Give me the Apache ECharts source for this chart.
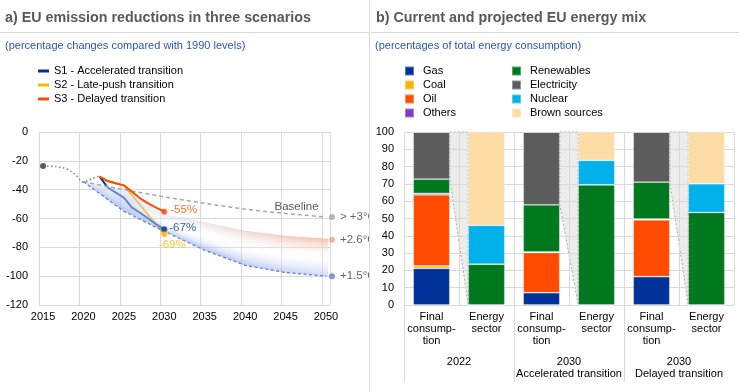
<!DOCTYPE html>
<html><head><meta charset="utf-8">
<script src="https://cdn.jsdelivr.net/npm/echarts@6/dist/echarts.min.js"></script>
<style>
html,body{margin:0;padding:0;background:#fff;}
#wrap{position:relative;width:744px;height:392px;overflow:hidden;background:#fff;}
#left{position:absolute;left:0;top:0;width:369px;height:392px;}
#right{position:absolute;left:371px;top:0;width:373px;height:392px;}
#divider{position:absolute;left:369px;top:0;width:1px;height:392px;background:#d9d9d9;}
</style></head><body>
<div id="wrap"><div id="left"></div><div id="divider"></div><div id="right"></div></div>
<script>
const FONT = 'Liberation Sans, Arial, sans-serif';

// ---------- Panel a data ----------
const years = []; for (let y = 2015; y <= 2050; y++) years.push(String(y));
const yTicks = [-120, -100, -80, -60, -40, -20, 0];
const histYears = [2015, 2016, 2017, 2018, 2019, 2020, 2021, 2022];
const histVals  = [-23.5, -23.7, -24.3, -25.8, -29.5, -34.5, -32.5, -30.5];
const baseYears = [2020, 2025, 2030, 2035, 2040, 2045, 2050];
const baseVals  = [-34.5, -40, -45, -49.5, -53.5, -56.5, -59];
const bandYears = [2020, 2025, 2030, 2035, 2040, 2045, 2050];
const lowVals   = [-34.5, -55, -69, -82, -92.5, -97.5, -100];   // 1.5°C path
const topVals   = [-34.5, -40, -57, -62.5, -68.5, -72, -74];     // 2.6°C edge of the band
const scenYears = [2022, 2023, 2024, 2025, 2026, 2027, 2028, 2029, 2030];
const s1Vals = [-31, -38.5, -42, -45.5, -52.5, -56, -60, -64, -67.5];
const s2Vals = [-31, -34, -35.5, -37, null, null, null, null, -71];
const s3Vals = [-31, -34, -35.5, -37, -41.5, -46, -49.5, -52.5, -55.3];
const scenNames = ['S1 - Accelerated transition', 'S2 - Late-push transition', 'S3 - Delayed transition'];
const scenColors = ['#003299', '#ffb400', '#ff4b00'];
const endLabels = ['-67%', '-69%', '-55%'];
const tempLabels = ['> +3°C', '+2.6°C', '+1.5°C'];
const tempVals = [-59, -74.8, -100];
const tempColors = ['#a6a6a6', '#f7a184', '#5b7fcc'];

// ---------- Panel b data ----------
const catLabels = ['Final\nconsump-\ntion', 'Energy\nsector', 'Final\nconsump-\ntion', 'Energy\nsector', 'Final\nconsump-\ntion', 'Energy\nsector'];
const groupLabels = ['2022', '2030\nAccelerated transition', '2030\nDelayed transition'];
const mixNames  = ['Gas', 'Coal', 'Oil', 'Others', 'Renewables', 'Electricity', 'Nuclear', 'Brown sources'];
const mixColors = ['#003299', '#ffb400', '#ff4b00', '#8139c6', '#00781e', '#5c5c5c', '#00b1ea', '#fddca5'];
const gas        = [21.2, 0, 7.1, 0, 16.4, 0];
const coal       = [1.4, 0, 0, 0, 0, 0];
const oil        = [41.1, 0, 23.2, 0, 32.8, 0];
const others     = [0.8, 0, 0.4, 0, 0.5, 0];
const renewables = [8.3, 23.6, 27.2, 69.5, 21.3, 53.5];
const electricity= [27.2, 0, 42.1, 0, 29, 0];
const nuclear    = [0, 22.4, 0, 14.1, 0, 16.6];
const brown      = [0, 54, 0, 16.4, 0, 29.9];
const mixValues = [gas, coal, oil, others, renewables, electricity, nuclear, brown];
const connFrom = [0, 2, 4];
const connTo   = [1, 3, 5];

// ---------- helpers ----------
function lerp(a, b, t) { return a + (b - a) * t; }
function clamp(t) { return Math.max(0, Math.min(1, t)); }
function mixCol(c1, c2, t) {
  return 'rgba(' + [0,1,2].map(k => Math.round(lerp(c1[k], c2[k], t))).join(',') + ',' + lerp(c1[3], c2[3], t).toFixed(3) + ')';
}
function yAt(P, x) {
  if (x <= P[0][0]) return P[0][1];
  for (let k = 0; k < P.length - 1; k++) {
    if (x <= P[k + 1][0]) {
      const t = (x - P[k][0]) / (P[k + 1][0] - P[k][0]);
      return lerp(P[k][1], P[k + 1][1], t);
    }
  }
  return P[P.length - 1][1];
}

// band between 1.5°C and 2.6°C edges, drawn as thin vertical strips with shaded gradient
function renderBand(params, api) {
  if (params.dataIndex !== 0) return;
  const T = bandYears.map((y, i) => api.coord([String(y), topVals[i]]));
  const L = bandYears.map((y, i) => api.coord([String(y), lowVals[i]]));
  const x0 = T[0][0], x1 = T[T.length - 1][0];
  const children = [];
  const blueTop = [212, 222, 246, 0.5], peachTop = [246, 168, 140, 0.75];
  const blueBot = [150, 173, 236, 0.7];
  for (let x = Math.floor(x0); x < Math.round(x1) + 2; x++) {
    const xa = Math.max(x, x0), xb = x + 1;
    const u = 2020 + (xa - x0) / (x1 - x0) * 30;
    const pT = clamp((u - 2029) / 21);
    const top = mixCol(blueTop, peachTop, pT);
    const midA = u < 2030 ? mixCol([190, 205, 242, 0.55], [255, 255, 255, 0.15], clamp((u - 2026) / 5)) : 'rgba(255,255,255,0.15)';
    const bot = mixCol(blueBot, [160, 180, 236, 0.5], clamp((u - 2038) / 12));
    const pts = [[xa, yAt(T, xa)], [xb, yAt(T, xb)], [xb, yAt(L, xb)], [xa, yAt(L, xa)]];
    children.push({
      type: 'polygon', shape: { points: pts }, silent: true,
      style: { fill: new echarts.graphic.LinearGradient(0, 0, 0, 1, [
        { offset: 0, color: top }, { offset: 0.5, color: midA }, { offset: 1, color: bot }]) }
    });
  }
  return { type: 'group', children };
}

const leftChart = echarts.init(document.getElementById('left'), null, { renderer: 'canvas' });

function pairs(ys, vs) { return ys.map((y, i) => [String(y), vs[i] === null ? '-' : vs[i]]); }

const histData = pairs(histYears, histVals).map((p, i) => i === 0 ?
  { value: p, symbol: 'circle', symbolSize: 6, itemStyle: { color: '#595959' } } : p);
const baseData = pairs(baseYears, baseVals).map((p, i) => i === 5 ?
  { value: p, symbol: 'circle', symbolSize: 1, itemStyle: { color: 'transparent' },
    label: { show: true, formatter: 'Baseline', position: 'top', distance: 0, offset: [11, 0], color: '#595959', fontSize: 11.5 } } : p);

const endVals = [s1Vals[s1Vals.length - 1], s2Vals[s2Vals.length - 1], s3Vals[s3Vals.length - 1]];
const endLabelPos = [
  { position: 'right', distance: 2, offset: [0, -1] },
  { position: 'bottom', distance: 1, offset: [8, 0] },
  { position: 'right', distance: 3, offset: [0, -2] }
];

leftChart.setOption({
  animation: false,
  textStyle: { fontFamily: FONT },
  title: [
    { text: 'a) EU emission reductions in three scenarios', left: 5, top: 11, padding: 0,
      textStyle: { fontSize: 14.3, fontWeight: 'bold', color: '#595959', fontFamily: FONT } },
    { text: '(percentage changes compared with 1990 levels)', left: 5, top: 40, padding: 0,
      textStyle: { fontSize: 11, fontWeight: 'normal', color: '#2a58a8', fontFamily: FONT } }
  ],
  graphic: [{ type: 'line', silent: true, shape: { x1: 0, y1: 32.5, x2: 369, y2: 32.5 }, style: { stroke: '#d9d9d9', lineWidth: 1 } }],
  legend: {
    data: scenNames, orient: 'vertical', left: 38, top: 64, padding: 0, itemGap: 0,
    icon: 'rect', itemWidth: 11, itemHeight: 3, selectedMode: false,
    textStyle: { fontSize: 11, color: '#000', lineHeight: 14, fontFamily: FONT }
  },
  grid: { left: 39, top: 132, width: 291, height: 173, outerBoundsMode: 'none' },
  xAxis: {
    type: 'category', data: years, boundaryGap: true,
    axisLine: { lineStyle: { color: '#d9d9d9' } }, axisTick: { show: false },
    axisLabel: { interval: 4, fontSize: 11, color: '#000', margin: 6, fontFamily: FONT },
    splitLine: { show: true, interval: 4, lineStyle: { color: '#d9d9d9' } }
  },
  yAxis: {
    type: 'value', min: yTicks[0], max: yTicks[yTicks.length - 1], interval: 20,
    axisLine: { show: false }, axisTick: { show: false },
    axisLabel: { fontSize: 11, color: '#000', margin: 11, fontFamily: FONT },
    splitLine: { lineStyle: { color: '#d9d9d9' } }
  },
  series: [
    { name: scenNames[1], type: 'line', z: 2, data: pairs(scenYears, s2Vals), connectNulls: true, symbol: 'none',
      lineStyle: { color: scenColors[1], width: 2 }, itemStyle: { color: scenColors[1] } },
    { name: scenNames[0], type: 'line', z: 2, data: pairs(scenYears, s1Vals), symbol: 'none',
      lineStyle: { color: scenColors[0], width: 2 }, itemStyle: { color: scenColors[0] } },
    { name: 'band', type: 'custom', z: 3, data: [['2020', 0]], renderItem: renderBand, silent: true },
    { name: 'history', type: 'line', z: 4, data: histData, smooth: 0.4, symbol: 'none',
      lineStyle: { color: '#7f7f7f', width: 1.5, type: [1.5, 2.5] } },
    { name: 'Baseline', type: 'line', z: 4, data: baseData, smooth: 0.3, symbol: 'none',
      lineStyle: { color: '#a6a6a6', width: 1.5, type: [4, 3] } },
    { name: '1.5°C path', type: 'line', z: 4, data: pairs(bandYears, lowVals), symbol: 'none',
      lineStyle: { color: '#5b7fcc', width: 1.2, type: [3, 2.5] } },
    { name: scenNames[2], type: 'line', z: 5, data: pairs(scenYears, s3Vals), symbol: 'none',
      lineStyle: { color: scenColors[2], width: 2 }, itemStyle: { color: scenColors[2] } },
    { name: 'ends', type: 'scatter', z: 6, symbolSize: 6,
      data: endVals.map((v, i) => ({ value: ['2030', v], itemStyle: { color: scenColors[i] },
        label: Object.assign({ show: true, formatter: endLabels[i], color: scenColors[i], fontSize: 11.5 }, endLabelPos[i]) })) },
    { name: 'temps', type: 'scatter', z: 6, symbolSize: 6, symbolOffset: [6, 0],
      data: tempVals.map((v, i) => ({ value: ['2050', v], itemStyle: { color: tempColors[i] },
        label: { show: true, formatter: tempLabels[i], position: 'right', distance: 5, color: '#404040', fontSize: 11.5 } })) }
  ]
});

// ---------- Panel b ----------
const rightChart = echarts.init(document.getElementById('right'), null, { renderer: 'canvas' });
const BAR_FRAC = 0.665;
const SEP_LEN = 77;

function renderConn(params, api) {
  const from = api.value(0), to = api.value(1), low = api.value(2);
  const band = api.size([1, 0])[0];
  const hw = band * BAR_FRAC / 2;
  const a = api.coord([from, 100]), b = api.coord([from, low]);
  const c = api.coord([to, 100]), d = api.coord([to, 0]);
  const base = api.coord([from, 0]);
  const xl = a[0] + hw, xr = c[0] - hw;
  const pts = [[xl, a[1]], [xr, c[1]], [xr, d[1]], [xl, b[1]]];
  const sepX = Math.round(base[0] - band / 2) + 0.5;
  return { type: 'group', children: [
    { type: 'polygon', shape: { points: pts }, style: { fill: '#ececec', stroke: '#a6a6a6', lineWidth: 1, lineDash: [2, 2] } },
    { type: 'line', shape: { x1: sepX, y1: base[1], x2: sepX, y2: base[1] + SEP_LEN }, style: { stroke: '#d9d9d9', lineWidth: 1 } }
  ] };
}

const barSeries = mixNames.map((n, i) => ({
  name: n, type: 'bar', stack: 'mix', data: mixValues[i], barWidth: (BAR_FRAC * 100) + '%', z: 2,
  itemStyle: { color: mixColors[i], borderColor: 'rgba(255,255,255,0.35)', borderWidth: 0.8 }
}));

rightChart.setOption({
  animation: false,
  textStyle: { fontFamily: FONT },
  title: [
    { text: 'b) Current and projected EU energy mix', left: 5, top: 11, padding: 0,
      textStyle: { fontSize: 14.3, fontWeight: 'bold', color: '#595959', fontFamily: FONT } },
    { text: '(percentages of total energy consumption)', left: 4, top: 40, padding: 0,
      textStyle: { fontSize: 11, fontWeight: 'normal', color: '#2a58a8', fontFamily: FONT } }
  ],
  graphic: [{ type: 'line', silent: true, shape: { x1: 0, y1: 32.5, x2: 368, y2: 32.5 }, style: { stroke: '#d9d9d9', lineWidth: 1 } }],
  legend: [
    { data: mixNames.slice(0, 4), orient: 'vertical', left: 33, top: 64, padding: 0, itemGap: 0,
      icon: 'rect', itemWidth: 9, itemHeight: 9, selectedMode: false,
      textStyle: { fontSize: 11, color: '#000', lineHeight: 14, padding: [0, 0, 0, 4], fontFamily: FONT } },
    { data: mixNames.slice(4), orient: 'vertical', left: 140, top: 64, padding: 0, itemGap: 0,
      icon: 'rect', itemWidth: 9, itemHeight: 9, selectedMode: false,
      textStyle: { fontSize: 11, color: '#000', lineHeight: 14, padding: [0, 0, 0, 4], fontFamily: FONT } }
  ],
  grid: { left: 33, top: 132, width: 330, height: 173, outerBoundsMode: 'none' },
  xAxis: [
    { type: 'category', data: catLabels, position: 'bottom',
      axisLine: { lineStyle: { color: '#d9d9d9' } }, axisTick: { show: false },
      axisLabel: { interval: 0, fontSize: 11, lineHeight: 12, color: '#000', margin: 6, fontFamily: FONT },
      splitLine: { show: true, interval: 0, lineStyle: { color: '#d9d9d9' } } },
    { type: 'category', data: groupLabels, position: 'bottom', offset: 0,
      axisLine: { show: false }, axisTick: { show: false },
      axisLabel: { interval: 0, fontSize: 11, lineHeight: 12, color: '#000', margin: 51, fontFamily: FONT },
      splitLine: { show: false } }
  ],
  yAxis: {
    type: 'value', min: 0, max: 100, interval: 10,
    axisLine: { show: false }, axisTick: { show: false },
    axisLabel: { fontSize: 11, color: '#000', margin: 10, fontFamily: FONT },
    splitLine: { lineStyle: { color: '#d9d9d9' } }
  },
  series: [
    { name: 'connectors', type: 'custom', z: -1, silent: true, clip: false, renderItem: renderConn,
      data: connFrom.map((f, i) => [f, connTo[i], 100 - electricity[f]]) }
  ].concat(barSeries)
});
</script></body></html>
